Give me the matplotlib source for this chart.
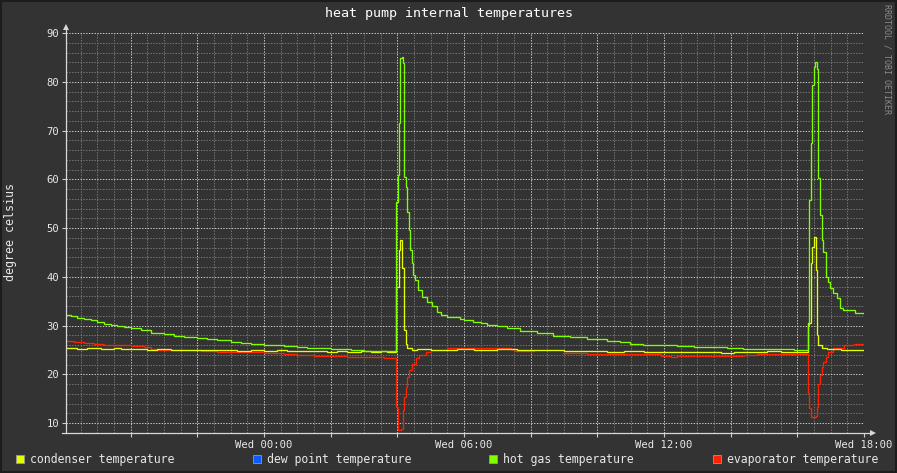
import math
import matplotlib
matplotlib.use("Agg")
import matplotlib.pyplot as plt
from matplotlib.patches import Rectangle

# ---------------- data (hours relative to Wed 00:00) ----------------
title = "heat pump internal temperatures"
y_label = "degree celsius"
watermark = "RRDTOOL / TOBI OETIKER"

series_names = ["condenser temperature", "dew point temperature",
                "hot gas temperature", "evaporator temperature"]
series_colors = ["#e5ff00", "#0a5cff", "#80ff00", "#ff2200"]

x_tick_hours = [0, 6, 12, 18]
x_tick_labels = ["Wed 00:00", "Wed 06:00", "Wed 12:00", "Wed 18:00"]
y_ticks = [10, 20, 30, 40, 50, 60, 70, 80, 90]

nan = math.nan

condenser = [(-5.94, 25.3), (-5.6, 25.2), (-5.3, 25.3), (-4.9, 25.2), (-4.5, 25.3),
             (-4.3, 25.1), (-3.8, 25.1), (-3.5, 25.0), (-3.2, 25.1), (-2.8, 25.0),
             (-2.2, 24.9), (-1.6, 25.0), (-1.3, 24.9), (-0.8, 24.8), (-0.4, 24.9),
             (0.0, 24.8), (0.4, 24.9), (0.7, 24.7), (1.1, 24.8), (1.5, 24.7),
             (1.9, 24.6), (2.2, 24.8), (2.5, 24.6), (2.9, 24.7), (3.2, 24.5),
             (3.5, 24.7), (3.7, 24.6), (3.96, 38.0), (4.04, 45.5), (4.08, 47.5),
             (4.14, 41.7), (4.19, 29.1), (4.25, 26.3), (4.30, 25.3), (4.45, 24.9),
             (4.6, 25.1), (5.0, 25.0), (5.8, 25.1), (6.3, 25.0), (7.0, 25.1),
             (7.6, 24.9), (8.2, 25.0), (9.0, 24.8), (9.7, 24.7), (10.3, 24.6),
             (10.8, 24.7), (11.4, 24.5), (12.0, 24.6), (12.6, 24.5), (13.2, 24.6),
             (13.7, 24.4), (14.1, 24.6), (14.6, 24.5), (15.1, 24.7), (15.5, 24.5),
             (16.0, 24.6), (16.33, 30.5), (16.40, 42.8), (16.44, 46.2), (16.51, 48.2),
             (16.55, 41.4), (16.58, 28.1), (16.62, 26.0), (16.73, 25.3), (16.9, 25.1),
             (17.3, 25.0), (17.8, 24.9), (18.0, 24.9)]

dew_point = []  # no data recorded in this period

hot_gas = [(-5.94, 32.2), (-5.8, 32.0), (-5.6, 31.6), (-5.4, 31.3), (-5.2, 31.1),
           (-5.0, 30.7), (-4.8, 30.4), (-4.6, 30.2), (-4.4, 30.0), (-4.2, 29.7),
           (-4.0, 29.4), (-3.7, 29.0), (-3.4, 28.5), (-3.0, 28.2), (-2.7, 27.9),
           (-2.4, 27.7), (-2.0, 27.4), (-1.7, 27.2), (-1.4, 27.0), (-1.0, 26.7),
           (-0.7, 26.5), (-0.4, 26.3), (0.0, 26.1), (0.3, 25.9), (0.6, 25.7),
           (1.0, 25.5), (1.3, 25.4), (1.6, 25.3), (2.0, 25.1), (2.6, 25.0),
           (3.0, 24.8), (3.5, 24.7), (3.96, 55.4), (4.01, 60.9), (4.04, 71.5),
           (4.08, 84.8), (4.13, 85.0), (4.16, 83.8), (4.19, 60.5), (4.25, 58.5),
           (4.29, 53.3), (4.34, 49.6), (4.38, 45.5), (4.43, 42.8), (4.48, 40.4),
           (4.53, 39.3), (4.63, 37.3), (4.73, 35.9), (4.88, 34.9), (5.03, 33.9),
           (5.18, 32.8), (5.3, 32.2), (5.48, 31.8), (5.88, 31.4), (6.0, 31.2),
           (6.27, 30.8), (6.5, 30.5), (6.69, 30.2), (7.0, 29.8), (7.29, 29.4),
           (7.68, 28.9), (8.19, 28.4), (8.67, 27.9), (9.18, 27.6), (9.69, 27.2),
           (10.29, 26.8), (10.68, 26.6), (10.98, 26.3), (11.37, 26.1), (12.39, 25.8),
           (12.9, 25.6), (13.38, 25.5), (13.9, 25.3), (14.37, 25.2), (15.39, 25.1),
           (15.9, 25.0), (16.33, 30.1), (16.36, 55.7), (16.40, 67.4), (16.44, 79.3),
           (16.51, 83.1), (16.54, 84.1), (16.58, 82.6), (16.62, 60.2), (16.68, 52.7),
           (16.73, 47.5), (16.78, 45.1), (16.86, 40.0), (16.93, 39.0), (16.98, 37.6),
           (17.08, 36.6), (17.18, 35.6), (17.28, 33.5), (17.38, 33.2), (17.58, 33.1),
           (17.73, 32.5), (18.0, 32.4)]

evaporator = [(-5.94, 26.8), (-5.7, 26.6), (-5.4, 26.4), (-5.1, 26.2), (-4.8, 26.1),
              (-4.4, 25.9), (-4.0, 25.8), (-3.6, 25.6), (-3.4, 25.2), (-3.2, 25.0),
              (-2.4, 24.9), (-1.9, 24.7), (-1.4, 24.6), (-0.6, 24.5), (0.0, 24.3),
              (0.6, 24.2), (1.0, 23.9), (1.5, 23.7), (2.5, 23.6), (3.2, 23.5),
              (3.6, 23.3), (3.96, 13.3), (4.01, 8.6), (4.10, 8.8), (4.16, 12.7),
              (4.20, 15.4), (4.25, 17.4), (4.30, 19.5), (4.35, 20.9), (4.45, 22.2),
              (4.55, 23.3), (4.65, 24.0), (4.85, 24.6), (5.0, 25.0), (5.5, 25.3),
              (7.4, 25.2), (7.5, 24.8), (7.8, 24.7), (8.1, nan), (8.97, 24.3),
              (9.7, 24.1), (11.9, 23.7), (12.2, 23.5), (12.4, 23.7), (14.4, 24.0),
              (14.8, 24.2), (16.33, 16.1), (16.36, 13.0), (16.40, 11.3), (16.55, 11.4),
              (16.58, 13.3), (16.62, 18.1), (16.68, 19.8), (16.73, 21.5), (16.78, 22.6),
              (16.86, 23.6), (16.93, 24.6), (17.08, 25.3), (17.4, 26.0), (17.7, 26.3),
              (18.0, 26.3)]

x_range = (-5.94, 18.0)
y_range = (7.95, 90)

# ---------------- styling ----------------
BG = "#333333"
FG = "#e8e8e8"
MONO = ["DejaVu Sans Mono"]
W, H = 897, 473

fig = plt.figure(figsize=(W / 100, H / 100), dpi=100, facecolor=BG)
ax = fig.add_axes([66 / W, 1 - 433 / H, 798 / W, 400 / H], facecolor=BG)
ax.set_xlim(*x_range)
ax.set_ylim(*y_range)

# grid (dotted)
dot = (0, (1.4, 1.4))
grid_kw = dict(lw=0.72, ls=dot, antialiased=True, snap=True)
minor_x = [h / 2 for h in range(-12, 37)]
major_x = list(range(-4, 19, 2))
for v in minor_x:
    if v not in major_x and x_range[0] < v <= x_range[1]:
        ax.axvline(v, color="#747474", zorder=1, **grid_kw)
for v in range(8, 91, 2):
    if v % 10 != 0 and v > y_range[0]:
        ax.axhline(v, color="#747474", zorder=1, **grid_kw)
for v in major_x:
    ax.axvline(v, color="#c4c4c4", zorder=1.5, **grid_kw)
for v in y_ticks:
    ax.axhline(v, color="#c4c4c4", zorder=1.5, **grid_kw)

# series
plot_order = [(evaporator, 3), (condenser, 0), (hot_gas, 2), (dew_point, 1)]
for z, (data, idx) in enumerate(plot_order):
    if not data:
        continue
    ts = [p[0] for p in data]
    vs = [p[1] for p in data]
    ax.plot(ts, vs, drawstyle="steps-post", color=series_colors[idx],
            lw=0.95, zorder=3 + z, solid_joinstyle="miter")

# axes
for s in ax.spines.values():
    s.set_visible(False)
ax.set_xticks(major_x)
ax.set_xticklabels([x_tick_labels[x_tick_hours.index(v)] if v in x_tick_hours else ""
                    for v in major_x])
ax.set_yticks(y_ticks)
ax.set_yticklabels([str(v) for v in y_ticks])
ax.tick_params(axis="both", colors="#cccccc", length=3, width=0.8, direction="out",
               labelcolor=FG, labelsize=7.6, pad=2)
for lab in ax.get_xticklabels() + ax.get_yticklabels():
    lab.set_family(MONO)

axis_col = "#d8d8d8"
ax.plot([0, 0], [0, 1.012], transform=ax.transAxes, color=axis_col, lw=0.9,
        clip_on=False, zorder=10)
ax.plot([-0.005, 1.01], [0, 0], transform=ax.transAxes, color=axis_col, lw=0.9,
        clip_on=False, zorder=10)
ax.plot([0], [1.014], marker="^", ms=4.5, color=axis_col, transform=ax.transAxes,
        clip_on=False, zorder=10, mew=0)
ax.plot([1.011], [0], marker=">", ms=4.5, color=axis_col, transform=ax.transAxes,
        clip_on=False, zorder=10, mew=0)

# texts
fig.text(0.5, 1 - 14 / H, title, ha="center", va="center", color="#ffffff",
         fontsize=9.6, family=MONO)
fig.text(11 / W, 1 - 232 / H, y_label, ha="center", va="center", rotation=90,
         color=FG, fontsize=8.4, family=MONO)
fig.text(887 / W, 1 - 4 / H, watermark, ha="center", va="top", rotation=270,
         color="#8a8a8a", fontsize=6.0, family=MONO)

# legend
legend_x = [16, 253, 489, 713]
for i, name in enumerate(series_names):
    x0 = legend_x[i]
    fig.patches.append(Rectangle((x0 / W, 1 - 463 / H), 8 / W, 8 / H,
                                 transform=fig.transFigure, facecolor=series_colors[i],
                                 edgecolor="#9a9a9a", lw=0.6))
    fig.text((x0 + 14) / W, 1 - 459 / H, name, ha="left", va="center",
             color=FG, fontsize=8.3, family=MONO)

# outer frame
fig.patches.append(Rectangle((0, 0), 1, 1, transform=fig.transFigure,
                             facecolor="none", edgecolor="#1c1c1c", lw=3))

fig.savefig("out.png", dpi=100, facecolor=BG)
